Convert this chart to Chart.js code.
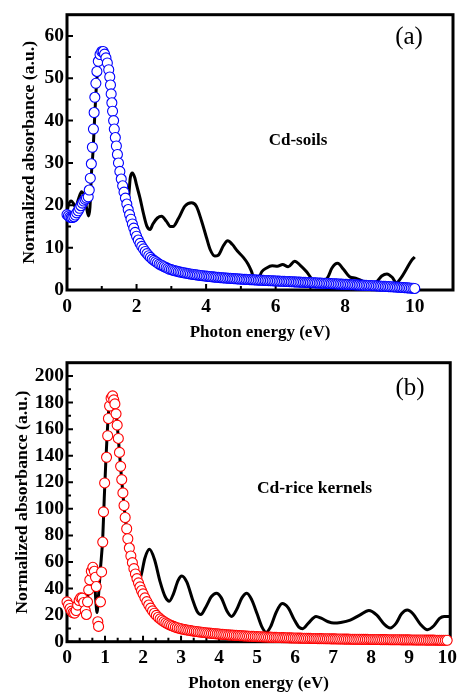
<!DOCTYPE html>
<html><head><meta charset="utf-8">
<script src="https://cdn.jsdelivr.net/npm/chart.js@4.4.1/dist/chart.umd.min.js"></script>
<style>
html,body{margin:0;padding:0;background:#fff;}
canvas{position:absolute;left:0;display:block;}
#ca{top:0;}
#cb{top:340px;}
</style></head><body>
<canvas id="ca" width="462" height="343"></canvas>
<canvas id="cb" width="462" height="355"></canvas>
<script>
// ---------- data ----------
const midE = [2.05,2.1,2.15,2.2,2.25,2.3,2.35,2.4,2.45,2.5,2.55,2.6,2.65,2.7,2.75,2.8,2.85,2.9,2.95,3.0];
const tailE = [3.05,3.1,3.15,3.2,3.25,3.3,3.35,3.4,3.45,3.5,3.55,3.6,3.65,3.7,3.75,3.8,3.85,3.9,3.95,4.0,
  4.05,4.1,4.15,4.2,4.25,4.3,4.35,4.4,4.45,4.5,4.55,4.6,4.65,4.7,4.75,4.8,4.85,4.9,4.95,5.0,
  5.05,5.1,5.15,5.2,5.25,5.3,5.35,5.4,5.45,5.5,5.55,5.6,5.65,5.7,5.75,5.8,5.85,5.9,5.95,6.0,
  6.05,6.1,6.15,6.2,6.25,6.3,6.35,6.4,6.45,6.5,6.55,6.6,6.65,6.7,6.75,6.8,6.85,6.9,6.95,7.0,
  7.05,7.1,7.15,7.2,7.25,7.3,7.35,7.4,7.45,7.5,7.55,7.6,7.65,7.7,7.75,7.8,7.85,7.9,7.95,8.0,
  8.05,8.1,8.15,8.2,8.25,8.3,8.35,8.4,8.45,8.5,8.55,8.6,8.65,8.7,8.75,8.8,8.85,8.9,8.95,9.0,
  9.05,9.1,9.15,9.2,9.25,9.3,9.35,9.4,9.45,9.5,9.55,9.6,9.65,9.7,9.75,9.8,9.85,9.9,9.95,10.0];

// (a) Cd-soils : fitted (circles)
const fitAxHead = [0,0.04,0.08,0.12,0.16,0.2,0.24,0.28,0.32,0.36,0.4,0.44,0.48,0.52,0.56,
  0.61,0.64,0.67,0.7,0.73,0.76,0.78,0.8,0.83,0.86,0.9,0.95,1.0,1.04,
  1.08,1.12,1.16,1.2,1.23,1.25,1.27,1.29,1.31,1.34,1.36,1.39,1.42,1.45,1.48,1.52,1.56,1.6,1.64,1.68,1.72,1.76,1.8,1.84,1.88,1.92,1.96,2.0];
const fitAy = [17.8,17.5,17.2,17.1,17.1,17.3,17.7,18.2,18.7,19.3,19.9,20.5,21.0,21.4,21.7,
  22.0,23.6,26.4,29.8,33.7,38.0,41.9,45.5,48.8,51.6,54.0,55.6,56.3,56.3,
  55.7,54.8,53.6,52.0,50.3,48.4,46.3,44.2,42.2,40.0,38.0,36.0,34.0,32.0,30.0,28.0,26.2,24.6,23.1,21.7,20.3,19.0,17.8,16.7,15.6,14.6,13.6,12.7,
  11.8,11.0,10.3,9.7,9.1,8.6,8.1,7.7,7.3,7.0,6.7,6.4,6.1,5.9,5.7,5.5,5.3,5.1,4.9,4.8,
  4.67,4.55,4.45,4.35,4.25,4.16,4.08,4.0,3.92,3.85,3.78,3.71,3.65,3.59,3.53,3.47,3.42,3.37,3.32,3.27,
  3.22,3.17,3.13,3.09,3.05,3.01,2.97,2.93,2.9,2.86,2.83,2.8,2.77,2.74,2.71,2.68,2.65,2.62,2.6,2.57,
  2.55,2.52,2.5,2.47,2.45,2.43,2.41,2.38,2.36,2.34,2.32,2.3,2.28,2.26,2.24,2.22,2.2,2.18,2.16,2.14,
  2.12,2.1,2.08,2.06,2.04,2.02,2.0,1.98,1.96,1.94,1.92,1.9,1.88,1.86,1.84,1.82,1.8,1.78,1.76,1.74,
  1.72,1.7,1.68,1.66,1.64,1.62,1.6,1.58,1.56,1.54,1.52,1.5,1.48,1.46,1.44,1.42,1.4,1.38,1.36,1.34,
  1.32,1.3,1.28,1.26,1.24,1.22,1.2,1.18,1.16,1.14,1.12,1.1,1.08,1.06,1.04,1.01,0.99,0.97,0.95,0.92,
  0.9,0.87,0.85,0.82,0.8,0.77,0.75,0.72,0.7,0.67,0.64,0.61,0.58,0.55,0.52,0.49,0.46,0.43,0.4,0.36];
// (a) experimental (line)
const expAx = [0,0.04,0.12,0.18,0.25,0.33,0.42,0.5,0.56,0.62,0.66,0.7,0.75,0.8,0.85,0.9,0.95,1.0,1.05,1.1,1.2,1.3,1.4,1.5,1.6,1.7,1.76,1.82,1.88,1.95,2.0,2.1,2.2,2.3,2.39,2.47,2.6,2.72,2.86,2.97,3.05,3.2,3.39,3.58,3.72,3.87,4.01,4.12,4.25,4.35,4.5,4.62,4.75,4.9,5.07,5.2,5.3,5.4,5.5,5.6,5.74,5.9,6.05,6.2,6.36,6.55,6.7,6.89,7.05,7.2,7.35,7.5,7.62,7.78,7.95,8.13,8.3,8.5,8.7,8.9,9.05,9.2,9.35,9.47,9.6,9.75,9.9,10.0];
const expAy = [18.5,20,21,20.5,19.5,21.5,23.2,22,19.5,17.5,19.5,27,33,41.5,48.8,53.3,55.5,56.3,56,55,51,43.8,35.7,29.6,25,22,21.5,26.5,27.6,26.5,24.8,21.7,18,15,14.3,15.6,17,17.4,16.2,15,15,16.8,19.8,20.6,19.8,16.3,12.4,9.5,8,8.2,10.5,11.6,10.8,9.2,7.7,6.2,4.5,2.3,2.5,4.3,5.2,5.7,5.6,6,5.5,6.8,5.9,4.3,2.5,1.6,1.8,3,5.2,6.3,4.9,3.1,2.8,2.1,1.5,1.9,3.3,3.8,3,1.7,2.8,4.8,6.9,7.8];

// (b) Cd-rice kernels : fitted (circles)
const fitBxHead = [0,0.04,0.08,0.12,0.16,0.2,0.24,0.28,0.32,0.36,0.4,0.44,0.48,
  0.51,0.54,0.57,0.6,0.64,0.68,0.72,0.75,0.77,0.81,0.83,0.88,0.91,0.94,0.96,0.99,1.04,1.07,1.09,1.12,1.16,1.2,
  1.23,1.26,1.29,1.32,1.35,1.38,1.41,1.44,1.47,1.5,1.53,1.57,1.6,1.64,1.68,1.72,1.76,1.8,1.84,1.88,1.92,1.96,2.0];
const fitBy = [30.0,27.5,25.0,23.0,21.8,21.5,23.5,27.5,31.0,33.0,32.8,29.5,23.5,
  20.5,30.0,39.0,46.5,53.0,56.0,53.0,48.5,41.5,15.0,11.5,30.0,52.5,75.0,97.7,119.5,138.8,155.0,168.0,177.4,183.3,185.0,
  182.0,179.0,171.5,163.0,153.0,142.5,132.0,122.0,112.0,102.5,93.5,85.0,77.5,70.5,64.5,59.5,55.0,51.0,47.5,44.3,41.3,38.5,36.0,
  33.0,30.2,27.6,25.3,23.2,21.4,19.8,18.4,17.2,16.1,15.1,14.2,13.4,12.7,12.1,11.5,11.0,10.5,10.1,9.7,
  9.4,9.1,8.85,8.6,8.35,8.1,7.9,7.7,7.5,7.3,7.12,6.95,6.78,6.6,6.45,6.3,6.15,6.0,5.87,5.75,
  5.62,5.5,5.38,5.27,5.16,5.05,4.95,4.85,4.75,4.65,4.56,4.47,4.38,4.3,4.22,4.14,4.06,3.99,3.92,3.85,
  3.78,3.72,3.65,3.59,3.53,3.47,3.41,3.36,3.3,3.25,3.2,3.15,3.1,3.05,3.0,2.96,2.91,2.87,2.82,2.78,
  2.74,2.7,2.66,2.62,2.58,2.55,2.51,2.48,2.44,2.41,2.38,2.35,2.32,2.29,2.26,2.23,2.2,2.17,2.14,2.12,
  2.09,2.07,2.04,2.02,1.99,1.97,1.94,1.92,1.9,1.88,1.86,1.84,1.82,1.8,1.78,1.76,1.74,1.72,1.7,1.68,
  1.66,1.64,1.62,1.6,1.58,1.56,1.55,1.53,1.51,1.5,1.48,1.47,1.45,1.44,1.42,1.41,1.39,1.38,1.36,1.35,
  1.33,1.32,1.3,1.29,1.27,1.26,1.24,1.23,1.21,1.2,1.18,1.17,1.15,1.14,1.12,1.11,1.09,1.08,1.06,1.05];
// (b) experimental (line)
const expBx = [0,0.08,0.16,0.24,0.32,0.4,0.46,0.52,0.6,0.67,0.72,0.76,0.79,0.83,0.88,0.94,0.98,1.02,1.06,1.1,1.15,1.2,1.25,1.3,1.35,1.4,1.45,1.5,1.6,1.7,1.8,1.87,1.95,2.05,2.17,2.3,2.45,2.58,2.69,2.8,2.92,3.02,3.15,3.3,3.42,3.52,3.65,3.8,3.93,4.06,4.2,4.33,4.46,4.6,4.73,4.86,5.0,5.13,5.24,5.36,5.5,5.66,5.82,5.97,6.1,6.2,6.35,6.55,6.7,6.87,7.02,7.2,7.45,7.7,7.94,8.15,8.35,8.5,8.66,8.8,8.95,9.1,9.3,9.48,9.65,9.8,9.92,10.05];
const expBy = [30,26,23,26,32,33,28,30,45,54,48,30,22,35,55,78,108,135,158,175,184,185,180,170,153,135,118,102,78,61,50,45,50,63,69.5,62,45,34,30.5,36,46,49.5,45,32,23,20.5,26,34,36.5,33,23.5,19,24,33,36.5,31.5,21,11,7,11.5,22,28.8,25.5,17,11,9.8,14,19,17.5,15,14,14.5,16.3,20,23.5,20,13,10.3,14,21,23.8,21,13,9,12,17.5,19,19];

// tick values
const xTicksA = [0,2,4,6,8,10];
const xMinorA = [1,3,5,7,9];
const yTicksA = [0,10,20,30,40,50,60];
const yMinorA = [5,15,25,35,45,55];
const xTicksB = [0,1,2,3,4,5,6,7,8,9,10];
const xMinorB = [0.333,0.667,1.333,1.667,2.333,2.667,3.333,3.667,4.333,4.667,5.333,5.667,6.333,6.667,7.333,7.667,8.333,8.667,9.333,9.667];
const yTicksB = [0,20,40,60,80,100,120,140,160,180,200];
const yMinorB = [10,30,50,70,90,110,130,150,170,190];

// ---------- drawing ----------
const SERIF = "'Liberation Serif','Times New Roman',serif";
const pairs = (xs, ys) => xs.map((x, i) => ({x, y: ys[i]}));

const framePlugin = {
  id: 'frame',
  beforeDatasetsDraw(chart, args, o) {
    const {ctx, chartArea: a} = chart;
    const x = chart.scales.x, y = chart.scales.y;
    ctx.save();
    ctx.strokeStyle = '#000';
    ctx.lineWidth = 2;
    ctx.beginPath();
    o.xMajor.forEach(v => { const p = x.getPixelForValue(v); ctx.moveTo(p, a.bottom); ctx.lineTo(p, a.bottom - 6); });
    o.xMinor.forEach(v => { const p = x.getPixelForValue(v); ctx.moveTo(p, a.bottom); ctx.lineTo(p, a.bottom - 4); });
    o.yMajor.forEach(v => { const p = y.getPixelForValue(v); ctx.moveTo(a.left, p); ctx.lineTo(a.left + 6, p); });
    o.yMinor.forEach(v => { const p = y.getPixelForValue(v); ctx.moveTo(a.left, p); ctx.lineTo(a.left + 4, p); });
    ctx.stroke();
    ctx.lineWidth = 3;
    ctx.strokeRect(a.left, a.top, a.right - a.left, a.bottom - a.top);
    ctx.restore();
  },
  afterDatasetsDraw(chart, args, o) {
    const ctx = chart.ctx;
    ctx.save();
    ctx.fillStyle = '#000';
    ctx.textAlign = 'center';
    ctx.textBaseline = 'middle';
    ctx.font = "25px " + SERIF;
    ctx.fillText(o.panel, o.panelX, o.panelY);
    ctx.font = "bold " + o.noteSize + "px " + SERIF;
    ctx.fillText(o.note, o.noteX, o.noteY);
    ctx.restore();
  }
};

function build(id, p) {
  return new Chart(document.getElementById(id), {
    type: 'line',
    data: {
      datasets: [
        {
          data: pairs(p.fitX, p.fitY),
          showLine: false,
          pointStyle: 'circle',
          pointRadius: 5,
          pointBorderWidth: 1.1,
          pointBorderColor: p.color,
          pointBackgroundColor: '#ffffff',
          clip: false
        },
        {
          data: pairs(p.expX, p.expY),
          borderColor: '#000000',
          borderWidth: 3,
          pointRadius: 0,
          fill: false,
          cubicInterpolationMode: 'monotone',
          clip: false
        }
      ]
    },
    options: {
      responsive: false,
      animation: false,
      events: [],
      layout: {padding: {left: p.padL, right: 9, top: p.padT, bottom: 0}},
      plugins: {
        legend: {display: false},
        tooltip: {enabled: false},
        frame: {
          xMajor: p.xTicks, xMinor: p.xMinor, yMajor: p.yTicks, yMinor: p.yMinor,
          panel: p.panel, panelX: p.panelX, panelY: p.panelY,
          note: p.note, noteX: p.noteX, noteY: p.noteY, noteSize: p.noteSize
        }
      },
      scales: {
        x: {
          type: 'linear', min: 0, max: p.xMax,
          grid: {display: false, drawTicks: false}, border: {display: false},
          afterBuildTicks: s => { s.ticks = p.xTicks.map(v => ({value: v})); },
          afterFit: s => { s.height = p.H - p.plotBottom; },
          ticks: {color: '#000', padding: 5, maxRotation: 0, autoSkip: false,
                  font: {family: SERIF, size: 19.5, weight: 'bold'}},
          title: {display: true, text: 'Photon energy (eV)', color: '#000',
                  padding: {top: 0, bottom: p.xtPad},
                  font: {family: SERIF, size: 17, weight: 'bold'}}
        },
        y: {
          type: 'linear', min: 0, max: p.yMax,
          grid: {display: false, drawTicks: false}, border: {display: false},
          afterBuildTicks: s => { s.ticks = p.yTicks.map(v => ({value: v})); },
          afterFit: s => { s.width = 67 - p.padL; },
          ticks: {color: '#000', padding: 3, autoSkip: false,
                  font: {family: SERIF, size: 19.5, weight: 'bold'}},
          title: {display: true, text: 'Normalized absorbance (a.u.)', color: '#000',
                  padding: {top: 1, bottom: 0},
                  font: {family: SERIF, size: 17.7, weight: 'bold'}}
        }
      }
    },
    plugins: [framePlugin]
  });
}

build('ca', {
  fitX: fitAxHead.concat(midE, tailE), fitY: fitAy, expX: expAx, expY: expAy,
  color: '#0000ff', xMax: 11.1, yMax: 65,
  xTicks: xTicksA, xMinor: xMinorA, yTicks: yTicksA, yMinor: yMinorA,
  padL: 18, padT: 10, H: 343, plotBottom: 290, xtPad: 0,
  panel: '(a)', panelX: 409, panelY: 37.5,
  note: 'Cd-soils', noteX: 298, noteY: 141, noteSize: 17
});
build('cb', {
  fitX: fitBxHead.concat(midE, tailE), fitY: fitBy, expX: expBx, expY: expBy,
  color: '#ff0000', xMax: 10.08, yMax: 210,
  xTicks: xTicksB, xMinor: xMinorB, yTicks: yTicksB, yMinor: yMinorB,
  padL: 11, padT: 22.7, H: 355, plotBottom: 301.7, xtPad: 1,
  panel: '(b)', panelX: 410, panelY: 48.5,
  note: 'Cd-rice kernels', noteX: 314.5, noteY: 148, noteSize: 17.5
});
</script>
</body></html>
